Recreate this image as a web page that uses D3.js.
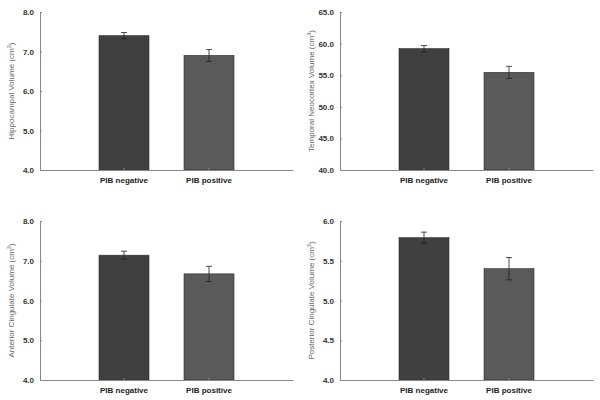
<!DOCTYPE html>
<html><head><meta charset="utf-8">
<script src="https://cdn.jsdelivr.net/npm/d3@7"></script>
<style>body{margin:0;background:#fff}svg{display:block}</style>
</head><body>
<script>
const categories = ["PIB negative", "PIB positive"];
const titles = ["Hippocampal Volume (cm", "Temporal Neocortex Volume (cm", "Anterior Cingulate Volume (cm", "Posterior Cingulate Volume (cm"];
const hippocampal = [7.40, 6.90];
const hippocampalErr = [0.08, 0.15];
const temporal = [59.2, 55.45];
const temporalErr = [0.5, 0.95];
const anterior = [7.14, 6.67];
const anteriorErr = [0.10, 0.19];
const posterior = [5.79, 5.40];
const posteriorErr = [0.07, 0.14];
const yDomains = [[4, 8], [40, 65], [4, 8], [4, 6]];
const yTicks = [[4,5,6,7,8],[40,45,50,55,60,65],[4,5,6,7,8],[4,4.5,5,5.5,6]];
const barColors = ["#404040", "#5a5a5a"];

const panels = [
  {x:0, y:0, top:12, bottom:170, vals:hippocampal, err:hippocampalErr},
  {x:300, y:0, top:12, bottom:170, vals:temporal, err:temporalErr},
  {x:0, y:200, top:21, bottom:180, vals:anterior, err:anteriorErr},
  {x:300, y:200, top:21, bottom:180, vals:posterior, err:posteriorErr}
];

const svg = d3.select("body").append("svg").attr("width",600).attr("height",400)
  .style("font-family","'Liberation Sans', Arial, sans-serif");

panels.forEach((p,i)=>{
  const g = svg.append("g").attr("transform",`translate(${p.x},${p.y})`);
  const x = d3.scaleBand().domain(categories).range([40,293]).paddingInner(0.412).paddingOuter(0.694);
  const y = d3.scaleLinear().domain(yDomains[i]).range([p.bottom,p.top]);

  g.selectAll("rect.bar").data(p.vals).enter().append("rect")
    .attr("x",(d,j)=>x(categories[j])).attr("width",x.bandwidth())
    .attr("y",d=>y(d)).attr("height",d=>y(yDomains[i][0])-y(d))
    .attr("fill",(d,j)=>barColors[j]).attr("stroke","#2a2a2a").attr("stroke-width",0.6);

  p.vals.forEach((v,j)=>{
    const cx = x(categories[j]) + x.bandwidth()/2;
    const e = p.err[j];
    g.append("line").attr("x1",cx).attr("x2",cx).attr("y1",y(v+e)).attr("y2",y(v-e))
      .attr("stroke","#222").attr("stroke-width",0.8);
    [v+e, v-e].forEach(t=>{
      g.append("line").attr("x1",cx-3).attr("x2",cx+3).attr("y1",y(t)).attr("y2",y(t))
        .attr("stroke","#222").attr("stroke-width",0.8);
    });
  });

  const ya = g.append("g").attr("transform","translate(40,0)")
    .call(d3.axisLeft(y).tickValues(yTicks[i]).tickFormat(d3.format(".1f")).tickSizeInner(-2).tickSizeOuter(0).tickPadding(6));
  ya.select(".domain").attr("stroke","#888");
  ya.selectAll(".tick line").attr("stroke","#888");
  ya.selectAll("text").attr("font-size",8).attr("font-weight","bold").attr("fill","#333")
    .attr("font-family","'Liberation Sans', Arial, sans-serif");

  const xa = g.append("g").attr("transform",`translate(0,${p.bottom})`)
    .call(d3.axisBottom(x).tickSizeInner(-2).tickSizeOuter(0).tickPadding(7));
  xa.select(".domain").attr("stroke","#888");
  xa.selectAll(".tick line").attr("stroke","#888");
  xa.selectAll("text").attr("font-size",8).attr("font-weight","bold").attr("fill","#222")
    .attr("font-family","'Liberation Sans', Arial, sans-serif");

  const t = g.append("text").attr("transform",`translate(14,${(p.top+p.bottom)/2}) rotate(-90)`)
    .attr("text-anchor","middle").attr("font-size",8).attr("fill","#666");
  t.append("tspan").text(titles[i]);
  t.append("tspan").attr("baseline-shift","super").attr("font-size",5.5).text("3");
  t.append("tspan").text(")");
});
</script>
</body></html>
